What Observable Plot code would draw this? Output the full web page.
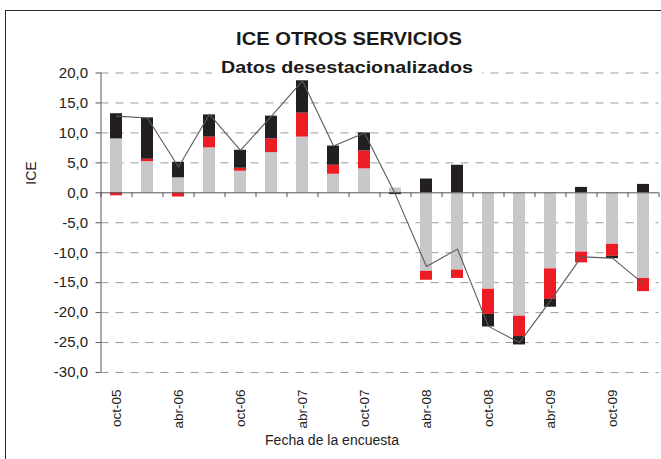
<!DOCTYPE html>
<html><head><meta charset="utf-8">
<script src="https://cdn.jsdelivr.net/npm/d3@7"></script>
<script src="https://cdn.jsdelivr.net/npm/@observablehq/plot@0.6"></script>
<style>
body{margin:0;background:#fff;}
#wrap{position:relative;width:661px;height:459px;overflow:hidden;font-family:"Liberation Sans",Arial,sans-serif;color:#222;}
#border{position:absolute;left:5px;top:10px;width:720px;height:520px;border:1.5px solid #2a2a2a;box-sizing:border-box;}
#chart{position:absolute;left:0;top:0;}
.t{position:absolute;white-space:nowrap;line-height:1;background:#fff;font-weight:bold;color:#1a1a1a;}
#title{left:349px;top:30px;font-size:18px;padding:0 3px;transform:translateX(-50%) scaleX(1.12);}
#subtitle{left:347px;top:59px;font-size:17px;padding:0 8px;transform:translateX(-50%) scaleX(1.16);}
#ylab{position:absolute;left:31px;top:173px;font-size:14px;line-height:1;transform:translate(-50%,-50%) rotate(-90deg);white-space:nowrap;}
#xlab{position:absolute;left:332px;top:433px;font-size:14px;line-height:1;transform:translateX(-50%);white-space:nowrap;}
</style>
</head><body>
<div id="wrap">
  <div id="border"></div>
  <div id="chart"></div>
  <div class="t" id="title">ICE OTROS SERVICIOS</div>
  <div class="t" id="subtitle">Datos desestacionalizados</div>
  <div id="ylab">ICE</div>
  <div id="xlab">Fecha de la encuesta</div>
</div>
<script>
const fechas = ["oct-05","ene-06","abr-06","jul-06","oct-06","ene-07","abr-07","jul-07","oct-07","ene-08","abr-08","jul-08","oct-08","ene-09","abr-09","jul-09","oct-09","ene-10"];
const etiquetas = ["oct-05","abr-06","oct-06","abr-07","oct-07","abr-08","oct-08","abr-09","oct-09"];
const gris  = [9.0, 5.2, 2.5, 7.5, 3.6, 6.7, 9.3, 3.1, 4.0, 0.8, -13.1, -12.9, -16.1, -20.6, -12.7, -9.9, -8.6, -14.3];
const rojo  = [-0.5, 0.4, -0.7, 1.8, 0.5, 2.3, 4.0, 1.5, 3.0, 0.0, -1.5, -1.4, -4.2, -3.4, -5.1, -1.8, -2.0, -2.2];
const negro = [4.2, 6.9, 2.6, 3.7, 3.0, 3.8, 5.4, 3.2, 3.0, -0.3, 2.3, 4.6, -2.1, -1.4, -1.3, 0.9, -0.4, 1.4];
const ice   = [12.8, 12.5, 4.3, 13.1, 7.1, 12.8, 18.7, 7.8, 10.0, -0.3, -12.3, -9.4, -22.3, -25.0, -18.0, -10.7, -10.9, -15.2];
const yTicks = [20, 15, 10, 5, 0, -5, -10, -15, -20, -25, -30];

const series = [["gris", gris], ["rojo", rojo], ["negro", negro]];
const rows = [];
fechas.forEach((f, i) => series.forEach(([s, arr]) => rows.push({fecha: f, serie: s, valor: arr[i]})));
const lineData = fechas.map((f, i) => ({fecha: f, ice: ice[i]}));
const fmt = d => d.toFixed(1).replace(".", ",");

const chart = Plot.plot({
  width: 661, height: 459,
  marginLeft: 100.5, marginRight: 2.5, marginTop: 72.5, marginBottom: 87,
  style: {fontFamily: '"Liberation Sans", Arial, sans-serif', background: "transparent", color: "#222"},
  x: {domain: fechas, paddingInner: 0.61, paddingOuter: 0.305},
  y: {domain: [-30, 20]},
  color: {domain: ["gris", "rojo", "negro"], range: ["#c8c8ca", "#ed1c24", "#231f20"]},
  marks: [
    Plot.ruleY(yTicks.filter(d => d !== 0), {stroke: "#9d9d9d", strokeDasharray: "8,7"}),
    Plot.barY(rows, {x: "fecha", y: "valor", fill: "serie"}),
    Plot.ruleY([0], {stroke: "#555"}),
    Plot.ruleX(fechas, {x: d => d, y1: 0, y2: -0.8, dx: -15.5, stroke: "#555"}),
    Plot.ruleX(fechas.slice(-1), {x: d => d, y1: 0, y2: -0.8, dx: 15.5, stroke: "#555"}),
    Plot.ruleX(fechas.slice(0, 1), {x: d => d, y1: -30, y2: 20, dx: -15.5, stroke: "#555"}),
    Plot.line(lineData, {x: "fecha", y: "ice", stroke: "#5a5a5a", strokeWidth: 1.1}),
    Plot.axisY(yTicks, {tickSize: 5, tickPadding: 8, tickFormat: fmt, fontSize: 15, label: null, stroke: "#555"}),
    Plot.axisX(etiquetas, {tickSize: 0, tickRotate: -90, tickPadding: 17, fontSize: 13.5, label: null})
  ]
});
document.getElementById("chart").appendChild(chart);
</script>
</body></html>
